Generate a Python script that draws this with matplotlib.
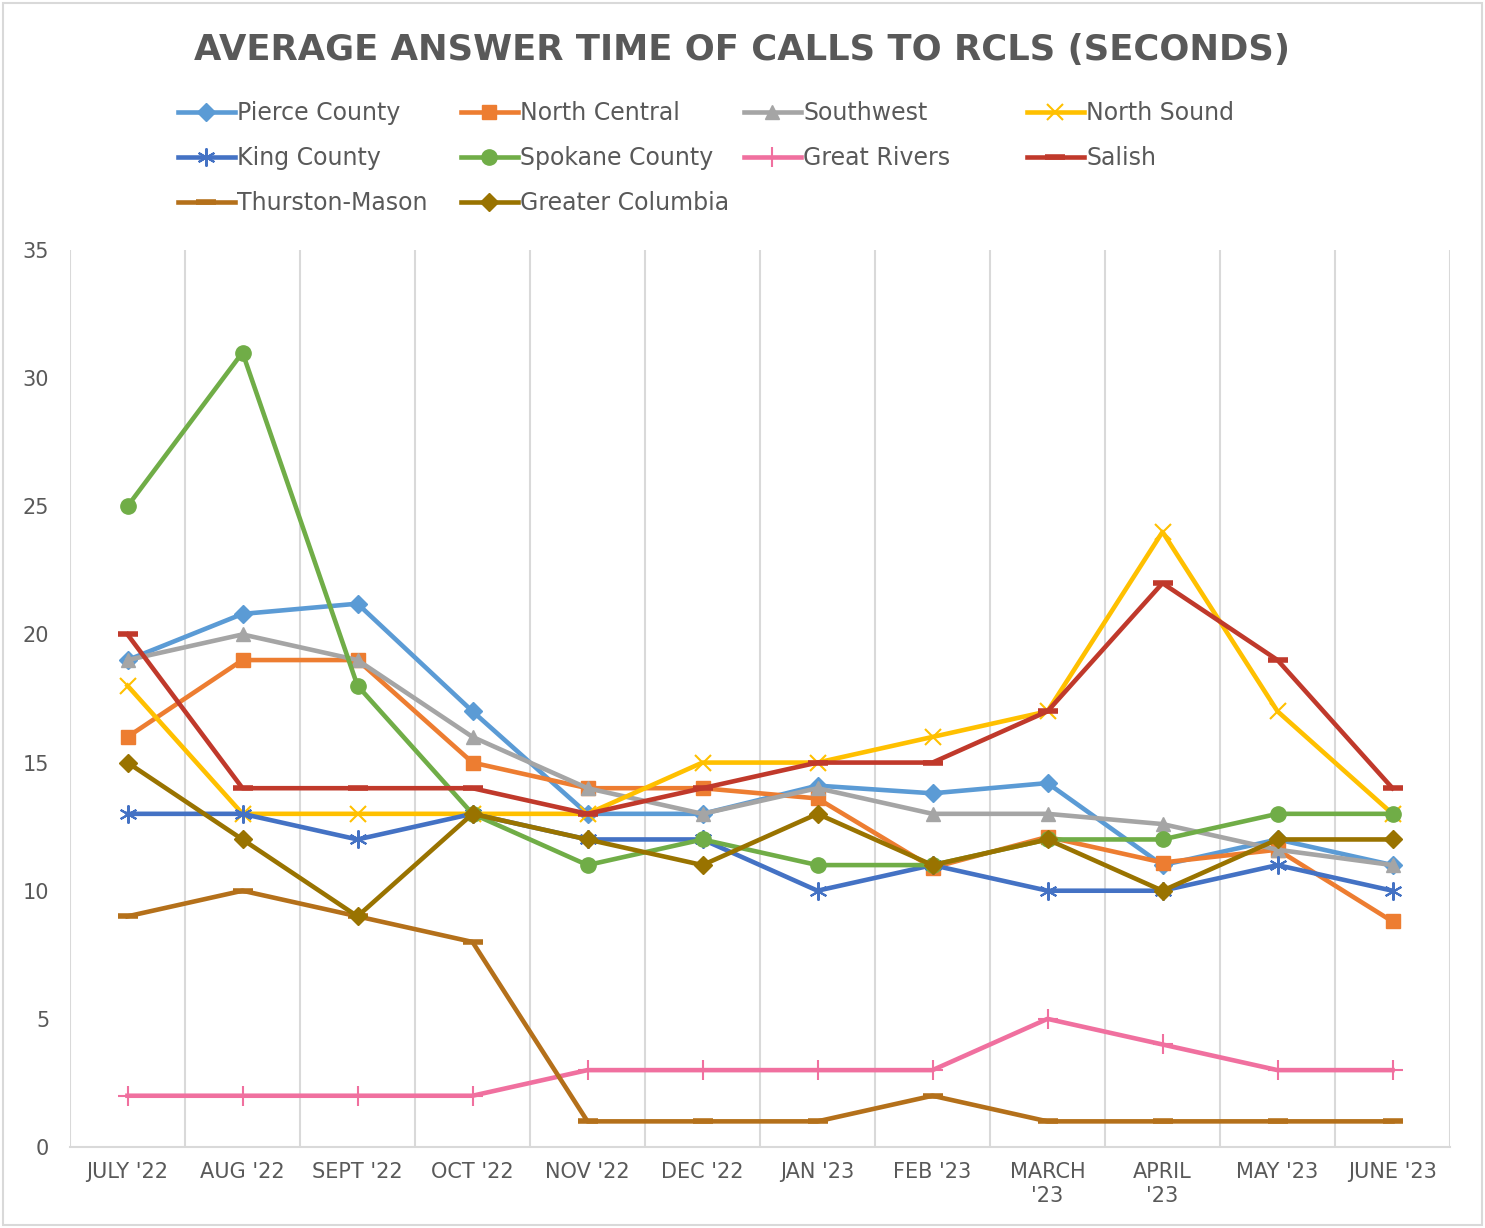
import matplotlib
matplotlib.use("Agg")
import matplotlib.pyplot as plt
from matplotlib.patches import Rectangle

# --------------------------------------------------
# DATA
# --------------------------------------------------

months = ["JULY '22", "AUG '22", "SEPT '22", "OCT '22", "NOV '22", "DEC '22",
          "JAN '23", "FEB '23", "MARCH\n'23", "APRIL\n'23", "MAY '23", "JUNE '23"]

pierce_county = [19, 20.8, 21.2, 17, 13, 13, 14.1, 13.8, 14.2, 11, 12, 11]
north_central = [16, 19, 19, 15, 14, 14, 13.6, 10.9, 12.1, 11.1, 11.6, 8.8]
southwest = [19, 20, 19, 16, 14, 13, 14, 13, 13, 12.6, 11.6, 11]
north_sound = [18, 13, 13, 13, 13, 15, 15, 16, 17, 24, 17, 13]
king_county = [13, 13, 12, 13, 12, 12, 10, 11, 10, 10, 11, 10]
spokane_county = [25, 31, 18, 13, 11, 12, 11, 11, 12, 12, 13, 13]
great_rivers = [2, 2, 2, 2, 3, 3, 3, 3, 5, 4, 3, 3]
salish = [20, 14, 14, 14, 13, 14, 15, 15, 17, 22, 19, 14]
thurston_mason = [9, 10, 9, 8, 1, 1, 1, 2, 1, 1, 1, 1]
greater_columbia = [15, 12, 9, 13, 12, 11, 13, 11, 12, 10, 12, 12]

# name, values, colour, marker, marker size, marker edge width
series = [
    ("Pierce County", pierce_county, "#5B9BD5", "D", 9, 1),
    ("North Central", north_central, "#ED7D31", "s", 10, 1),
    ("Southwest", southwest, "#A5A5A5", "^", 10, 1),
    ("North Sound", north_sound, "#FFC000", "x", 12, 1.5),
    ("King County", king_county, "#4472C4", (6, 2, 0), 13, 1.5),
    ("Spokane County", spokane_county, "#70AD47", "o", 11, 1),
    ("Great Rivers", great_rivers, "#F0709F", "+", 14, 1.5),
    ("Salish", salish, "#C0392B", "_", 14, 4),
    ("Thurston-Mason", thurston_mason, "#B4701A", "_", 14, 4),
    ("Greater Columbia", greater_columbia, "#997300", "D", 9, 1),
]

# --------------------------------------------------
# FIGURE
# --------------------------------------------------

plt.rcParams["font.family"] = ["DejaVu Sans"]

fig = plt.figure(figsize=(14.85, 12.28), dpi=100)
ax = fig.add_axes([70 / 1485, 1 - 1147 / 1228, 1380 / 1485, 897 / 1228])

x = list(range(len(months)))

handles = []
for name, vals, color, marker, ms, mew in series:
    h, = ax.plot(x, vals, color=color, lw=3.3, marker=marker, markersize=ms,
                 markeredgewidth=mew, markeredgecolor=color,
                 markerfacecolor=color, label=name)
    handles.append(h)

ax.set_xlim(-0.5, len(months) - 0.5)
ax.set_ylim(0, 35)
ax.set_yticks(range(0, 36, 5))
ax.set_xticks(x)
ax.set_xticklabels(months)

# vertical gridlines between categories
for b in range(len(months) + 1):
    ax.axvline(b - 0.5, color="#D9D9D9", lw=1.5, zorder=0)

for s in ["top", "right", "left"]:
    ax.spines[s].set_visible(False)
ax.spines["bottom"].set_color("#D9D9D9")
ax.spines["bottom"].set_linewidth(1.5)

ax.tick_params(axis="both", length=0, colors="#595959", labelsize=15)
ax.tick_params(axis="x", pad=11)
ax.tick_params(axis="y", pad=15)
for lbl in ax.get_xticklabels():
    lbl.set_linespacing(1.25)

fig.text(0.5, 1 - 50 / 1228, "AVERAGE ANSWER TIME OF CALLS TO RCLS (SECONDS)",
         ha="center", va="center", fontsize=25.5, fontweight="bold", color="#595959")

# legend: 4 fixed-width columns, filled row by row
col_x = [178, 461, 744, 1027]
for c in range(4):
    hs = handles[c::4]
    leg = fig.legend(handles=hs, labels=[h.get_label() for h in hs],
                     loc="upper left", bbox_to_anchor=(col_x[c] / 1485, 1 - 101 / 1228),
                     ncol=1, frameon=False, fontsize=17, handlelength=2.4,
                     numpoints=1, labelspacing=0.9, handletextpad=0.1,
                     borderaxespad=0, borderpad=0)
    for t in leg.get_texts():
        t.set_color("#595959")

# outer border
fig.patches.append(Rectangle((3 / 1485, 3 / 1228), 1479 / 1485, 1222 / 1228,
                             transform=fig.transFigure, fill=False,
                             edgecolor="#D9D9D9", lw=1.5))

plt.savefig("out.png", dpi=100)
